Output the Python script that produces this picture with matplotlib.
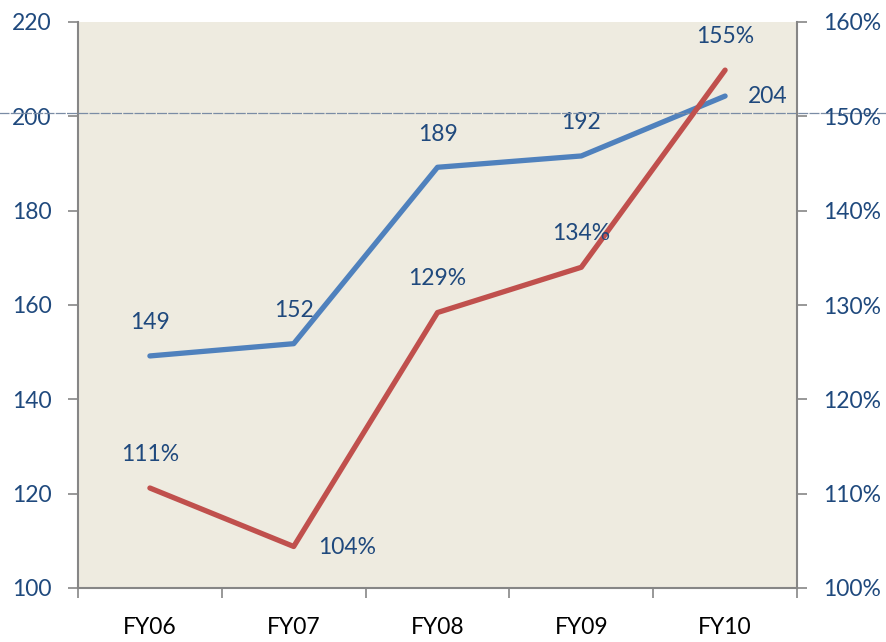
import matplotlib
matplotlib.use("Agg")
import matplotlib.pyplot as plt
from matplotlib.ticker import FixedLocator

categories = ["FY06", "FY07", "FY08", "FY09", "FY10"]
blue_values = [149.2, 151.8, 189.2, 191.6, 204.3]
blue_labels = ["149", "152", "189", "192", "204"]
red_values = [110.6, 104.4, 129.2, 134.0, 154.9]
red_labels = ["111%", "104%", "129%", "134%", "155%"]
left_ticks = [100, 120, 140, 160, 180, 200, 220]
right_ticks = [100, 110, 120, 130, 140, 150, 160]
right_tick_labels = ["100%", "110%", "120%", "130%", "140%", "150%", "160%"]
ref_line_value = 200.7

plt.rcParams['font.family'] = ['Lato', 'DejaVu Sans']

BLUE = "#4F81BD"
RED = "#C0504D"
TXT = "#1F497D"
GRAY = "#868686"
BG = "#EEEBE0"

fig = plt.figure(figsize=(8.86, 6.42), dpi=100)
ax = fig.add_axes([78/886, 1-588/642, (797-78)/886, (588-22)/642])
ax.set_facecolor(BG)
ax2 = ax.twinx()

x = list(range(len(categories)))
ax.set_xlim(-0.5, len(categories) - 0.5)
ax.set_ylim(100, 220)
ax2.set_ylim(100, 160)

ax.plot(x, blue_values, color=BLUE, lw=3.8, solid_capstyle='round', zorder=3)
ax2.plot(x, red_values, color=RED, lw=3.8, solid_capstyle='round', zorder=3)

fs = 16.5
for i, (v, lab) in enumerate(zip(blue_values, blue_labels)):
    if i == len(blue_values) - 1:
        ax.annotate(lab, (i, v), xytext=(43, 0), textcoords='offset pixels',
                    ha='center', va='center', color=TXT, fontsize=fs)
    else:
        ax.annotate(lab, (i, v), xytext=(0, 33), textcoords='offset pixels',
                    ha='center', va='center', color=TXT, fontsize=fs)
for i, (v, lab) in enumerate(zip(red_values, red_labels)):
    if i == 1:
        ax2.annotate(lab, (i, v), xytext=(53, -1), textcoords='offset pixels',
                     ha='center', va='center', color=TXT, fontsize=fs)
    else:
        ax2.annotate(lab, (i, v), xytext=(0, 34), textcoords='offset pixels',
                     ha='center', va='center', color=TXT, fontsize=fs)

ax.axhline(ref_line_value, xmin=-0.11, xmax=1.13, clip_on=False,
           color="#7A8CA5", lw=0.9, ls=(0, (8, 1)), zorder=5)

ax.set_yticks(left_ticks)
ax.set_yticklabels([str(t) for t in left_ticks], color=TXT, fontsize=fs)
ax2.set_yticks(right_ticks)
ax2.set_yticklabels(right_tick_labels, color=TXT, fontsize=fs)

ax.set_xticks(x)
ax.set_xticklabels(categories, fontsize=fs, color='black')
ax.tick_params(axis='x', which='major', length=0, pad=21)
ax.xaxis.set_minor_locator(FixedLocator([i - 0.5 for i in range(len(categories) + 1)]))
ax.tick_params(axis='x', which='minor', length=7, width=1.2, color=GRAY, direction='out')
ax.tick_params(axis='y', length=7, width=1.2, color=GRAY, pad=12)
ax2.tick_params(axis='y', length=7, width=1.2, color=GRAY, pad=12)

for a in (ax, ax2):
    a.spines['top'].set_visible(False)
    for s in ('left', 'right', 'bottom'):
        a.spines[s].set_color(GRAY)
        a.spines[s].set_linewidth(1.5)
ax.spines['right'].set_visible(False)
ax2.spines['left'].set_visible(False)
ax2.spines['bottom'].set_visible(False)

fig.savefig("out.png", dpi=100, facecolor='white')
